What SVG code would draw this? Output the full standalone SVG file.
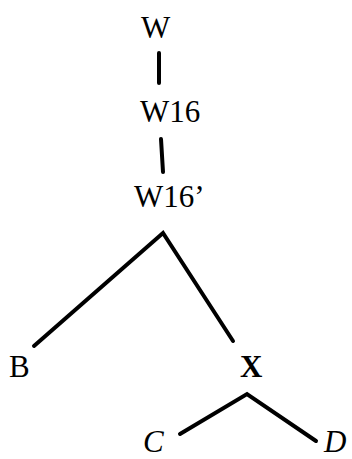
<svg xmlns="http://www.w3.org/2000/svg" width="352" height="459" viewBox="0 0 352 459">
<style>
text{font-family:"Liberation Serif","Times New Roman",serif;font-size:31px;fill:#000}
.b{font-weight:bold}
.i{font-style:italic}
.e{stroke:#000;stroke-width:4;stroke-linecap:round;fill:none}
</style>
<rect width="352" height="459" fill="#fff"/>
<g id="edges">
<line class="e" x1="159" y1="53" x2="159" y2="83"/>
<line class="e" x1="161" y1="139" x2="163" y2="172"/>
<polyline class="e" points="34,346 163,233 233,341"/>
<polyline class="e" points="180,434 247,394 316,441"/>
</g>
<g id="W"><text x="141" y="38">W</text></g>
<g id="W16"><text x="140" y="122">W16</text></g>
<g id="W16p"><text x="134" y="207">W16’</text></g>
<g id="B"><text x="9" y="377">B</text></g>
<g id="X"><text class="b" x="240" y="377">X</text></g>
<g id="C"><text class="i" x="143" y="452">C</text></g>
<g id="D"><text class="i" x="324" y="452">D</text></g>
</svg>
